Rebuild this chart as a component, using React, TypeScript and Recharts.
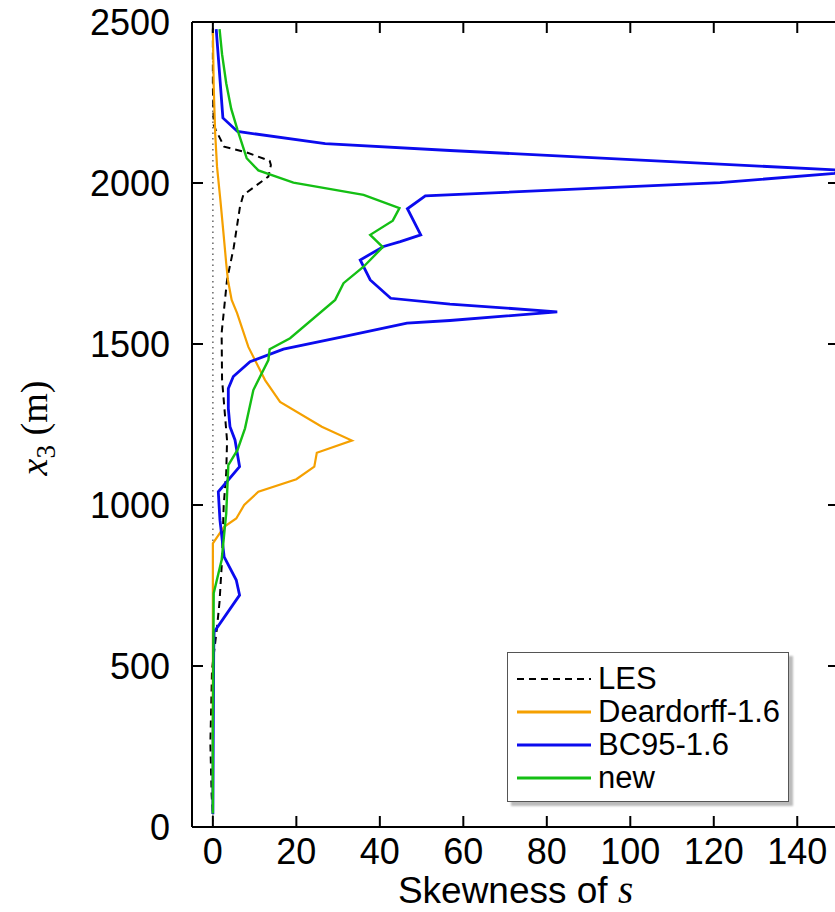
import React from 'react';
import { LineChart, Line, XAxis, YAxis, ReferenceLine, Label } from 'recharts';

// profiles: z = height (m), s = skewness
const lesZ = [2480, 2300, 2180, 2165, 2113, 2095, 2069, 2056, 2020, 1963, 1927, 1800, 1700, 1534, 1390, 1200, 1100, 1000, 830, 700, 620, 490, 260, 100, 40];
const lesS = [0.0, 0.0, 0.2, 0.7, 2.7, 8.1, 13.6, 13.9, 13.3, 7.3, 6.5, 5.0, 3.4, 2.1, 2.2, 3.4, 3.2, 2.6, 2.2, 1.6, 1.0, -0.2, -0.6, -0.3, 0.0];

const deardorffZ = [2476, 2300, 2155, 2050, 1947, 1850, 1750, 1699, 1637, 1596, 1491, 1388, 1320, 1243, 1200, 1162, 1119, 1080, 1041, 1000, 958, 932, 881, 600, 300, 40];
const deardorffS = [0.0, 0.2, 0.55, 1.0, 1.8, 2.5, 3.2, 3.6, 4.5, 5.8, 8.5, 12.5, 16.1, 26.1, 33.3, 24.9, 24.3, 20.0, 10.9, 7.5, 5.6, 2.7, 0.0, 0.0, 0.0, 0.0];

const bc95Z = [2478, 2202, 2160, 2122, 2101, 2040, 2030, 2001, 1960, 1920, 1839, 1818, 1803, 1761, 1699, 1642, 1624, 1600, 1573, 1565, 1523, 1484, 1445, 1399, 1362, 1300, 1243, 1202, 1119, 1041, 953, 839, 767, 720, 606, 550, 300, 40];
const bc95S = [0.8, 2.4, 5.9, 26.9, 56.8, 150, 149, 121.5, 50.9, 46.6, 49.8, 44.9, 40.9, 35.3, 37.7, 42.6, 56.8, 82.5, 56.8, 46.5, 31.3, 16.9, 8.9, 4.9, 3.7, 3.7, 4.1, 5.3, 6.4, 1.3, 1.7, 2.7, 5.6, 6.4, 0.3, 0.2, 0.1, 0.0];

const newZ = [2478, 2400, 2310, 2230, 2165, 2077, 2039, 2001, 1963, 1922, 1883, 1839, 1801, 1740, 1689, 1637, 1518, 1484, 1450, 1357, 1238, 1171, 1124, 974, 829, 726, 500, 300, 42];
const newS = [1.6, 2.2, 3.2, 4.4, 5.9, 8.1, 10.9, 19.3, 36.1, 44.7, 43.1, 37.7, 40.7, 36.1, 31.3, 29.3, 18.5, 13.6, 13.3, 9.7, 7.7, 5.9, 3.7, 3.2, 2.1, 0.2, 0.1, 0.0, 0.0];

const xTicks = [0, 20, 40, 60, 80, 100, 120, 140];
const yTicks = [0, 500, 1000, 1500, 2000, 2500];

const toRows = (zs: number[], ss: number[]) => zs.map((z, i) => ({ z, s: ss[i] }));

const series = [
  { name: 'LES', data: toRows(lesZ, lesS), color: '#000000', width: 2, dash: '7 5' },
  { name: 'Deardorff-1.6', data: toRows(deardorffZ, deardorffS), color: '#f5a000', width: 2.2, dash: undefined },
  { name: 'BC95-1.6', data: toRows(bc95Z, bc95S), color: '#0b0bee', width: 2.8, dash: undefined },
  { name: 'new', data: toRows(newZ, newS), color: '#14bf14', width: 2.4, dash: undefined },
];

const SANS = '"Liberation Sans", Arial, Helvetica, sans-serif';
const SERIF = '"Liberation Serif", "Times New Roman", serif';
const TICK = 11;

const LeftTick = (p: any) => (
  <g>
    <line x1={p.x} x2={p.x + TICK} y1={p.y} y2={p.y} stroke="#000" strokeWidth={2} />
    <text x={p.x - 22} y={p.y} dy="0.36em" textAnchor="end" fontSize={36} fontFamily={SANS} fill="#000">
      {p.payload.value}
    </text>
  </g>
);

const RightTick = (p: any) => (
  <line x1={p.x - TICK} x2={p.x} y1={p.y} y2={p.y} stroke="#000" strokeWidth={2} />
);

const BottomTick = (p: any) => (
  <g>
    <line x1={p.x} x2={p.x} y1={p.y} y2={p.y - TICK} stroke="#000" strokeWidth={2} />
    <text x={p.x} y={p.y + 37} textAnchor="middle" fontSize={36} fontFamily={SANS} fill="#000">
      {p.payload.value}
    </text>
  </g>
);

const TopTick = (p: any) => (
  <line x1={p.x} x2={p.x} y1={p.y} y2={p.y + TICK} stroke="#000" strokeWidth={2} />
);

const XTitle = (p: any) => {
  const vb = p.viewBox;
  return (
    <text x={vb.x + vb.width / 2} y={903} textAnchor="middle" fontSize={37} fontFamily={SANS} fill="#000">
      Skewness of <tspan fontFamily={SERIF} fontStyle="italic" fontSize={39}>s</tspan>
    </text>
  );
};

const YTitle = () => (
  <text x={0} y={0} transform="translate(47,428) rotate(-90)" textAnchor="middle" fontSize={38} fontFamily={SERIF} fill="#000">
    <tspan fontStyle="italic">x</tspan>
    <tspan fontSize={27} dy={8}>3</tspan>
    <tspan dy={-8}> (m)</tspan>
  </text>
);

function LegendBox() {
  return (
    <div
      style={{
        position: 'absolute',
        left: 507,
        top: 652,
        width: 280,
        height: 148,
        border: '1px solid #555',
        background: '#fff',
        boxShadow: '4px 4px 2px #bbb',
        fontFamily: SANS,
        fontSize: 31,
        color: '#000',
      }}
    >
      {series.map((s, i) => (
        <div key={s.name} style={{ position: 'absolute', left: 9, top: 9 + i * 33, height: 33, display: 'flex', alignItems: 'center' }}>
          <svg width={74} height={10} style={{ marginRight: 7 }}>
            <line x1={0} x2={74} y1={5} y2={5} stroke={s.color} strokeWidth={s.name === 'LES' ? 2 : 3} strokeDasharray={s.dash} />
          </svg>
          <span style={{ lineHeight: '33px' }}>{s.name}</span>
        </div>
      ))}
    </div>
  );
}

export default function App() {
  return (
    <div style={{ position: 'absolute', left: 0, top: 0, width: 835, height: 912, overflow: 'hidden', background: '#fff' }}>
      <LineChart
        layout="vertical"
        width={850}
        height={912}
        margin={{ top: 21, right: 10, bottom: 25, left: 92 }}
      >
        <XAxis
          xAxisId="b"
          type="number"
          dataKey="s"
          orientation="bottom"
          domain={[-5, 150]}
          ticks={xTicks}
          allowDataOverflow
          height={60}
          tickSize={0}
          tickMargin={0}
          tickLine={false}
          tick={BottomTick}
          axisLine={{ stroke: '#000', strokeWidth: 2 }}
        >
          <Label content={XTitle} />
        </XAxis>
        <XAxis
          xAxisId="t"
          type="number"
          dataKey="s"
          orientation="top"
          domain={[-5, 150]}
          ticks={xTicks}
          allowDataOverflow
          height={1}
          tickSize={0}
          tickMargin={0}
          tickLine={false}
          tick={TopTick}
          axisLine={{ stroke: '#000', strokeWidth: 2 }}
        />
        <YAxis
          yAxisId="l"
          type="number"
          dataKey="z"
          orientation="left"
          domain={[0, 2500]}
          ticks={yTicks}
          reversed
          allowDataOverflow
          width={100}
          tickSize={0}
          tickMargin={0}
          tickLine={false}
          tick={LeftTick}
          axisLine={{ stroke: '#000', strokeWidth: 2 }}
        >
          <Label content={YTitle} />
        </YAxis>
        <YAxis
          yAxisId="r"
          type="number"
          dataKey="z"
          orientation="right"
          domain={[0, 2500]}
          ticks={yTicks}
          reversed
          allowDataOverflow
          width={1}
          tickSize={0}
          tickMargin={0}
          tickLine={false}
          tick={RightTick}
          axisLine={{ stroke: '#000', strokeWidth: 2 }}
        />
        <ReferenceLine xAxisId="b" yAxisId="l" x={0} stroke="#666" strokeWidth={1.5} strokeDasharray="1.5 4" />
        {/* empty line so the top and right axes get drawn */}
        <Line xAxisId="t" yAxisId="r" data={[]} dataKey="s" stroke="none" dot={false} activeDot={false} legendType="none" isAnimationActive={false} />
        {series.map((s) => (
          <Line
            key={s.name}
            xAxisId="b"
            yAxisId="l"
            data={s.data}
            dataKey="s"
            name={s.name}
            type="linear"
            stroke={s.color}
            strokeWidth={s.width}
            strokeDasharray={s.dash}
            dot={false}
            activeDot={false}
            isAnimationActive={false}
          />
        ))}
      </LineChart>
      <LegendBox />
    </div>
  );
}
